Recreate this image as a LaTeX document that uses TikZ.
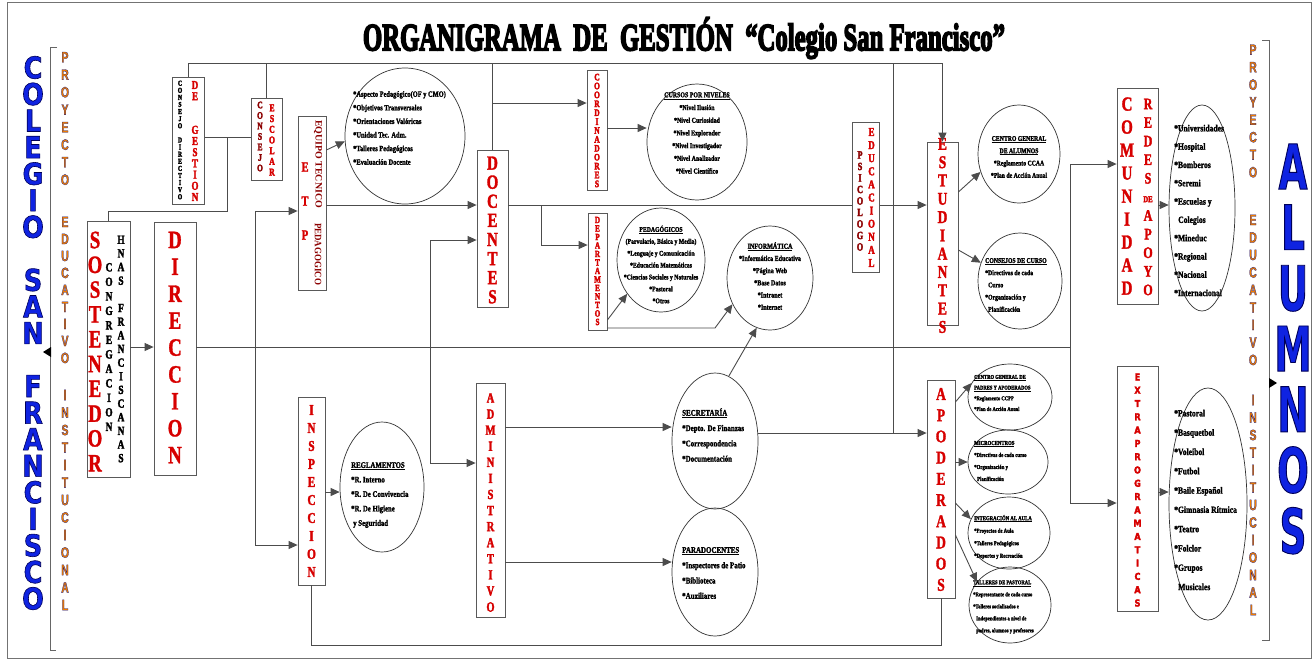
\documentclass[tikz,border=0pt]{standalone}
\usepackage{fontspec}
\usepackage{graphicx}
\usetikzlibrary{arrows.meta,shapes.geometric}
\setmainfont{Liberation Serif}
\newfontfamily\bx{Liberation Serif}[FakeStretch=0.75]
\newfontfamily\ef{Liberation Serif}[FakeStretch=0.8]
\newfontfamily\hv{DejaVu Sans}[FakeStretch=0.85]
\newfontfamily\hvn{DejaVu Sans}[FakeStretch=0.6]
\newfontfamily\nar{Liberation Sans}[FakeStretch=0.7]
\definecolor{bred}{RGB}{215,0,0}
\definecolor{dred}{RGB}{140,0,0}
\definecolor{bblue}{RGB}{15,35,225}
\definecolor{pyel}{RGB}{240,125,0}
\lineskiplimit=-1000pt
\newcommand\fs[2]{\fontsize{#1}{#2}\selectfont}
\newcommand\blk{\phantom{X}}
\newcommand\bul{*}
\newcommand\olt[3]{\special{pdf:literal direct 2 Tr #2 w #1 RG}#3\special{pdf:literal direct 0 Tr}}
\newcommand\stkon[2]{\special{pdf:literal direct 2 Tr #2 w #1 RG}}
\newcommand\stkoff{\special{pdf:literal direct 0 Tr}}
\ExplSyntaxOn
\NewDocumentCommand\vst{m}
  {
    \seq_clear:N \l_tmpa_seq
    \tl_map_inline:nn {#1} { \seq_put_right:Nn \l_tmpa_seq {##1} }
    \seq_use:Nn \l_tmpa_seq { \\ }
  }
\ExplSyntaxOff
\begin{document}
\begin{tikzpicture}[x=1pt,y=-1pt,
  box/.style={draw=black!65, line width=0.8pt, fill=white, inner sep=0pt, rectangle},
  ell/.style={draw=black!80, line width=0.7pt, ellipse, inner sep=0pt},
  ln/.style={draw=black!70, line width=0.9pt},
  arr/.style={ln, -{Triangle[length=9pt,width=8pt]}},
  col/.style={inner sep=0pt, align=center, text=bred,
    execute at begin node={\stkon{0.25 0 0}{0.3}}, execute at end node={\stkoff}},
  et/.style={inner sep=0pt, align=left, text=black, anchor=west,
    execute at begin node={\stkon{0 0 0}{0.15}}, execute at end node={\stkoff}},
  ec/.style={inner sep=0pt, align=center, text=black,
    execute at begin node={\stkon{0 0 0}{0.15}}, execute at end node={\stkoff}},
]
\useasboundingbox (0,0) rectangle (1316,662);
\fill[white] (0,0) rectangle (1316,662);
\draw[black!55, line width=0.6pt] (7,2) rectangle (1311,658);

% title
\node[inner sep=0pt] (title) at (684,38) {\resizebox{642pt}{33pt}{\olt{0 0 0}{0.5}{\bfseries ORGANIGRAMA\ \ DE\ \ GESTIÓN\ \ “Colegio San Francisco”}}};

% ---------- left side
\node[inner sep=0pt, align=center, font=\hv\bfseries\fs{30}{26.55}, text=bblue] (colegio) at (33,333)
  {\olt{0 0 0.35}{0.6}{\vst{COLEGIO\blk SAN\blk FRANCISCO}}};
\draw[black!60, line width=0.7pt] (57,47) -- (50,47) -- (50,650) -- (56,650);
\fill (43,352) -- (51,347) -- (51,357) -- cycle;
\node[inner sep=0pt, align=center, font=\nar\bfseries\fs{15}{17.5}, text=pyel] (lp1) at (65,118.5) {\olt{0.1 0.1 0.5}{0.25}{\vst{PROYECTO}}};
\node[inner sep=0pt, align=center, font=\nar\bfseries\fs{15}{17}, text=pyel] (lp2) at (65,290) {\olt{0.1 0.1 0.5}{0.25}{\vst{EDUCATIVO}}};
\node[inner sep=0pt, align=center, font=\nar\bfseries\fs{15}{17.5}, text=pyel] (lp3) at (65,500) {\olt{0.1 0.1 0.5}{0.25}{\vst{INSTITUCIONAL}}};

% ---------- right side
\node[inner sep=0pt, align=center, font=\hvn\bfseries\fs{62}{60.7}, text=bblue] (alumnos) at (1293,349)
  {\olt{0 0 0.35}{0.9}{\vst{ALUMNOS}}};
\draw[black!60, line width=0.7pt] (1262,40) -- (1269,40) -- (1269,640) -- (1262,640);
\fill (1277,383) -- (1269,378) -- (1269,388) -- cycle;
\node[inner sep=0pt, align=center, font=\nar\bfseries\fs{15}{17.5}, text=pyel] (rp1) at (1253,111) {\olt{0.1 0.1 0.5}{0.25}{\vst{PROYECTO}}};
\node[inner sep=0pt, align=center, font=\nar\bfseries\fs{15}{17.5}, text=pyel] (rp2) at (1253,290) {\olt{0.1 0.1 0.5}{0.25}{\vst{EDUCATIVO}}};
\node[inner sep=0pt, align=center, font=\nar\bfseries\fs{15}{17.5}, text=pyel] (rp3) at (1253,505) {\olt{0.1 0.1 0.5}{0.25}{\vst{INSTITUCIONAL}}};

% ---------- boxes
\node[box, minimum width=43, minimum height=256] (sost) at (108.5,349.5) {};
\node[col, font=\bx\bfseries\fs{25}{24.8}] (sostA) at (95,351.5) {\vst{SOSTENEDOR}};
\node[col, font=\bx\bfseries\fs{12.5}{14.5}, text=black] (sostB) at (109,347) {\vst{CONGREGACION}};
\node[col, font=\bx\bfseries\fs{12.5}{13.65}, text=black] (sostC) at (121,349) {\vst{HNAS\blk FRANCISCANAS}};

\node[box, minimum width=42, minimum height=253] (dir) at (175,348.5) {};
\node[col, font=\bx\bfseries\fs{25}{26.9}] (dirA) at (175,347.5) {\vst{DIRECCION}};

\node[box, minimum width=32, minimum height=127] (cd) at (188.5,140.5) {};
\node[col, font=\bx\bfseries\fs{7.5}{7.1}, text=black] (cdA) at (180,140) {\vst{CONSEJO\blk DIRECTIVO}};
\node[col, font=\bx\bfseries\fs{12}{11.2}] (cdB) at (195,141) {\vst{DE\blk\blk GESTION}};

\node[box, minimum width=31, minimum height=82] (ce) at (266.5,139) {};
\node[col, font=\bx\bfseries\fs{10}{10.5}, text=dred] (ceA) at (260,136.5) {\vst{CONSEJO}};
\node[col, font=\bx\bfseries\fs{10.5}{10.7}] (ceB) at (272,140) {\vst{ESCOLAR}};

\node[box, minimum width=28, minimum height=174] (etp) at (312,203) {};
\node[col, font=\bx\bfseries\fs{14}{34}] (etpA) at (305,201) {\vst{ETP}};
\node[inner sep=0pt, rotate=-90, text=dred] (etpB) at (318,164) {\resizebox{88pt}{6.5pt}{\bfseries EQUIPO\ TECNICO}};
\node[inner sep=0pt, rotate=-90, text=dred] (etpC) at (318,254) {\resizebox{62pt}{6.5pt}{\bfseries PEDAGOGICO}};

\node[ell, minimum width=120, minimum height=136] (etpE) at (405,136) {};
\node[et, font=\ef\bfseries\fs{8}{13.6}] (etpT) at (353,128)
  {\bul Aspecto Pedagógico(OF y CMO)\\\bul Objetivos Transversales\\\bul Orientaciones Valóricas\\\bul Unidad Tec. Adm.\\\bul Talleres Pedagógicos\\\bul Evaluación Docente};

\node[box, minimum width=31, minimum height=157] (doc) at (492.5,228.5) {};
\node[col, font=\bx\bfseries\fs{20}{19.1}] (docA) at (492.5,230) {\vst{DOCENTES}};

\node[box, minimum width=20, minimum height=120] (coord) at (597,130) {};
\node[col, font=\bx\bfseries\fs{10}{8.9}] (coordA) at (597,130.5) {\vst{COORDINADORES}};

\node[ell, minimum width=100, minimum height=116] (cursos) at (697,142) {};
\node[ec, font=\ef\bfseries\fs{7.4}{12.7}] (cursosT) at (697,133)
  {\underline{CURSOS POR NIVELES}\\\bul Nivel Ilusión\\\bul Nivel Curiosidad\\\bul Nivel Explorador\\\bul Nivel Investigador\\\bul Nivel Analizador\\\bul Nivel Científico};

\node[box, minimum width=19, minimum height=117] (dep) at (597.5,271.5) {};
\node[col, font=\bx\bfseries\fs{9.5}{8.5}] (depA) at (597.5,271) {\vst{DEPARTAMENTOS}};

\node[ell, minimum width=88, minimum height=104] (peda) at (661,260) {};
\node[ec, font=\ef\bfseries\fs{7.2}{11.9}] (pedaT) at (661,264.5)
  {\underline{PEDAGÓGICOS}\\(Parvulario, Básica y Media)\\\bul Lenguaje y Comunicación\\\bul Educación Matemáticas\\\bul Ciencias Sociales y Naturales\\\bul Pastoral\\\bul Otros};

\node[ell, minimum width=86, minimum height=104] (info) at (770,278) {};
\node[ec, font=\ef\bfseries\fs{7.6}{12.2}] (infoT) at (770,276)
  {\underline{INFORMÁTICA}\\\bul Informática Educativa\\\bul Página Web\\\bul Base Datos\\\bul Intranet\\\bul Internet};

\node[box, minimum width=27, minimum height=150] (psi) at (866,197) {};
\node[col, font=\bx\bfseries\fs{11}{11.5}, text=dred] (psiA) at (860,201) {\vst{PSICOLOGO}};
\node[col, font=\bx\bfseries\fs{12}{13.1}] (psiB) at (871.5,197.5) {\vst{EDUCACIONAL}};

\node[box, minimum width=31, minimum height=183] (est) at (942.5,233.5) {};
\node[col, font=\bx\bfseries\fs{18}{18.3}] (estA) at (942.5,235.5) {\vst{ESTUDIANTES}};

\node[ell, minimum width=82, minimum height=98] (cga) at (1019,154) {};
\node[ec, font=\ef\bfseries\fs{7.2}{12.3}] (cgaT) at (1019,157)
  {\underline{CENTRO GENERAL}\\\underline{DE ALUMNOS}\\\bul Reglamento CCAA\\\bul Plan de Acción Anual};

\node[ell, minimum width=84, minimum height=96] (ccu) at (1020,281) {};
\node[et, font=\ef\bfseries\fs{7.2}{12.2}] (ccuT) at (985,285)
  {\underline{CONSEJOS DE CURSO}\\\bul Directivas de cada\\\hspace*{3pt}Curso\\\bul Organización y\\\hspace*{3pt}Planificación};

\node[box, minimum width=41, minimum height=216] (com) at (1137.5,196) {};
\node[col, font=\bx\bfseries\fs{20}{23}] (comA) at (1127,196) {\vst{COMUNIDAD}};
\node[col, font=\bx\bfseries\fs{16}{18.6}] (comB) at (1148,197) {\vst{REDES}\\{\fontsize{9}{18.6}\selectfont DE}\\\vst{APOYO}};

\node[ell, minimum width=66, minimum height=206] (redes) at (1202,208) {};
\node[et, font=\ef\bfseries\fs{9.5}{18.3}] (redesT) at (1174,210.5)
  {\bul Universidades\\\bul Hospital\\\bul Bomberos\\\bul Seremi\\\bul Escuelas y\\\hspace*{4pt}Colegios\\\bul Mineduc\\\bul Regional\\\bul Nacional\\\bul Internacional};

\node[box, minimum width=41, minimum height=245] (extra) at (1137.5,488.5) {};
\node[col, font=\hv\bfseries\fs{9.5}{13.3}] (extraA) at (1137.5,490) {\vst{EXTRAPROGRAMATICAS}};

\node[ell, minimum width=78, minimum height=232] (extraE) at (1208,504) {};
\node[et, font=\ef\bfseries\fs{9.5}{19.3}] (extraT) at (1174,500)
  {\bul Pastoral\\\bul Basquetbol\\\bul Voleibol\\\bul Futbol\\\bul Baile Español\\\bul Gimnasia Rítmica\\\bul Teatro\\\bul Folclor\\\bul Grupos\\\hspace*{4pt}Musicales};

\node[box, minimum width=27, minimum height=188] (insp) at (311.5,491) {};
\node[col, font=\bx\bfseries\fs{15}{18}] (inspA) at (311.5,491) {\vst{INSPECCION}};

\node[ell, minimum width=84, minimum height=130] (regl) at (382,487) {};
\node[et, font=\ef\bfseries\fs{8.5}{14.5}] (reglT) at (351,495)
  {\underline{REGLAMENTOS}\\\bul R. Interno\\\bul R. De Convivencia\\\bul R. De Higiene\\\hspace*{2pt}y Seguridad};

\node[box, minimum width=29, minimum height=234] (adm) at (490.5,500) {};
\node[col, font=\bx\bfseries\fs{14}{16.08}] (admA) at (490.5,502.5) {\vst{ADMINISTRATIVO}};

\node[ell, minimum width=86, minimum height=136] (secr) at (715,441) {};
\node[et, font=\ef\bfseries\fs{8.7}{15.3}] (secrT) at (682,435)
  {\underline{SECRETARÍA}\\\bul Depto. De Finanzas\\\bul Correspondencia\\\bul Documentación};

\node[ell, minimum width=86, minimum height=128] (para) at (715,572) {};
\node[et, font=\ef\bfseries\fs{8.7}{15.3}] (paraT) at (682,573)
  {\underline{PARADOCENTES}\\\bul Inspectores de Patio\\\bul Biblioteca\\\bul Auxiliares};

\node[box, minimum width=28, minimum height=218] (apo) at (941,489) {};
\node[col, font=\bx\bfseries\fs{18}{21.2}] (apoA) at (941,489.5) {\vst{APODERADOS}};

\node[ell, minimum width=84, minimum height=66] (cgp) at (1010,397) {};
\node[et, font=\ef\bfseries\fs{5.8}{10.7}] (cgpT) at (974,393)
  {\underline{CENTRO GENERAL DE}\\\underline{PADRES Y APODERADOS}\\\bul Reglamento CCPP\\\bul Plan de Acción Anual};
\node[ell, minimum width=80, minimum height=64] (micro) at (1008,462) {};
\node[et, font=\ef\bfseries\fs{6}{12}] (microT) at (974,461)
  {\underline{MICROCENTROS}\\\bul Directivas de cada curso\\\bul Organización y\\\hspace*{3pt}Planificación};
\node[ell, minimum width=82, minimum height=72] (integ) at (1009,533) {};
\node[et, font=\ef\bfseries\fs{6}{12.5}] (integT) at (974,537)
  {\underline{INTEGRACIÓN AL AULA}\\\bul Proyectos de Aula\\\bul Talleres Pedagógicos\\\bul Deportes y Recreación};
\node[ell, minimum width=82, minimum height=76] (tall) at (1010,605) {};
\node[et, font=\ef\bfseries\fs{5.8}{12}] (tallT) at (973,607)
  {\underline{TALLERES DE PASTORAL}\\\bul Representante de cada curso\\\bul Talleres socializados e\\\hspace*{3pt}Independientes a nivel de\\\hspace*{3pt}padres, alumnos y profesores};

% ---------- connectors
\coordinate (bus) at (0,63);
\draw[arr] (cd.north) |- (est.north |- bus) -- (est.north);
\draw[ln] (ce.north) -- (ce.north |- bus);
\draw[ln] (doc.north) -- (doc.north |- bus);
\coordinate (p893) at (893,433);
\draw[ln] (p893 |- bus) -- (p893);
\coordinate (j137) at (227,137);
\coordinate (j211) at (227,211);
\draw[ln] (cd.east |- j137) -- (ce.west |- j137);
\draw[ln] (j137) -- (j211) -| (sost.north);
\coordinate (y347) at (0,347);
\coordinate (r347) at (1070,347);
\draw[arr] (sost.east |- y347) -- (dir.west |- y347);
\draw[ln] (dir.east |- y347) -- (r347);
\coordinate (a1) at (255,211);
\coordinate (a2) at (255,545);
\draw[arr] (a2) -- (a1) -- (a1 -| etp.west);
\draw[arr] (a1) -- (a2) -- (a2 -| insp.west);
\draw[arr] (etp.east |- 0,150) -- (etpE.185);
\draw[arr] (etp.east |- 0,205) -- (doc.west |- 0,205);
\coordinate (b1) at (430,240);
\coordinate (b2) at (430,463);
\draw[arr] (b2) -- (b1) -- (b1 -| doc.west);
\draw[arr] (b1) -- (b2) -- (b2 -| adm.west);
\draw[arr] (doc.north |- 0,103) -- (coord.west |- 0,103);
\draw[arr] (coord.east |- 0,128) -- (cursos.west |- 0,128);
\draw[ln] (doc.east |- 0,205) -- (psi.west |- 0,205);
\draw[arr] (psi.east |- 0,205) -- (est.west |- 0,205);
\coordinate (c541) at (541,205);
\draw[arr] (c541) |- (dep.west |- 0,245);
\draw[arr] (dep.east |- 0,320) -- (peda.225);
\coordinate (k715) at (715,328);
\draw[arr] (dep.east |- k715) -- (k715) -- (info.215);
\draw[arr] (secr.78) -- (info.255);
\coordinate (y433) at (0,433);
\draw[arr] (secr.east |- y433) -- (apo.west |- y433);
\draw[arr] (est.east |- 0,192) -- (cga.205);
\draw[arr] (est.east |- 0,250) -- (ccu.155);
\coordinate (c1) at (1070,164);
\coordinate (c2) at (1070,503);
\draw[arr] (c2) -- (c1) -- (c1 -| com.west);
\draw[arr] (c1) -- (c2) -- (c2 -| extra.west);
\draw[arr] (com.east |- 0,205) -- (redes.west |- 0,205);
\draw[arr] (extra.east |- 0,492) -- (extraE.west |- 0,492);
\draw[arr] (insp.east |- 0,492) -- (regl.west |- 0,492);
\coordinate (y645) at (0,645);
\draw[ln] (insp.south) -- (insp.south |- y645) -| (apo.south);
\draw[arr] (adm.east |- 0,427) -- (secr.west |- 0,427);
\draw[arr] (adm.east |- 0,562) -- (para.west |- 0,562);
\draw[arr] (apo.east |- 0,402) -- (cgp.160);
\draw[arr] (apo.east |- 0,462) -- (micro.west);
\draw[arr] (apo.east |- 0,503) -- (integ.160);
\draw[arr] (apo.east |- 0,535) -- (tall.145);
\end{tikzpicture}
\end{document}
